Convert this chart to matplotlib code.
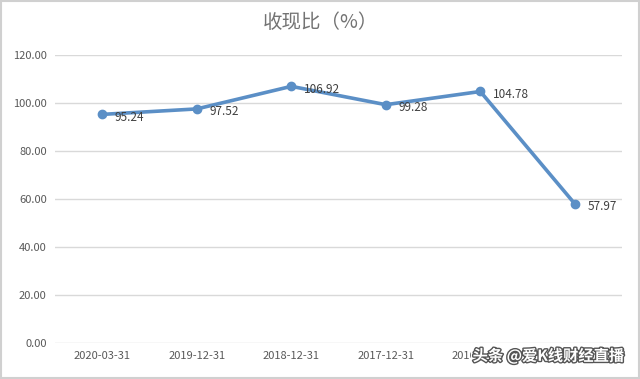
import matplotlib
matplotlib.use('Agg')
import matplotlib.pyplot as plt
import matplotlib.patheffects as pe

plt.rcParams['font.family'] = ['Noto Sans CJK SC', 'DejaVu Sans']

# data
dates = ['2020-03-31', '2019-12-31', '2018-12-31', '2017-12-31', '2016-12-31', '2015-12-31']
ratio = [95.24, 97.52, 106.92, 99.28, 104.78, 57.97]
yticks = [0, 20, 40, 60, 80, 100, 120]

blue = '#5b8fc6'
grey_text = '#595959'

fig = plt.figure(figsize=(6.4, 3.79), dpi=100)
ax = fig.add_axes([0.086, 0.095, 0.886, 0.76])

x = list(range(len(dates)))
ax.plot(x, ratio, color=blue, lw=2.6, marker='o', ms=6, zorder=3)
for xi, v in zip(x, ratio):
    ax.annotate('%.2f' % v, (xi, v), xytext=(9, -2), textcoords='offset points',
                ha='left', va='center', fontsize=8.5, color='#404040')

ax.set_xlim(-0.5, len(dates) - 0.5)
ax.set_ylim(0, 120)
ax.set_yticks(yticks)
ax.set_yticklabels(['%.2f' % t for t in yticks])
ax.set_xticks(x)
ax.set_xticklabels(dates)
ax.tick_params(length=0, labelsize=8, colors=grey_text, pad=6)
ax.grid(axis='y', color='#d9d9d9', lw=1)
ax.set_axisbelow(True)
for s in ax.spines.values():
    s.set_visible(False)

fig.text(0.5, 0.94, '收现比（%）', ha='center', va='center', fontsize=14, color='#737373')

# watermark in the bottom right corner, drawn over the last tick labels
wm = fig.text(0.975, 0.06, '头条 @爱K线财经直播', ha='right', va='center', fontsize=11,
              color='white', fontweight='bold',
              bbox=dict(boxstyle='square,pad=0.1', fc='white', ec='none'))
wm.set_path_effects([pe.withStroke(linewidth=2, foreground='#555555')])

fig.patches.append(plt.Rectangle((0.002, 0.003), 0.996, 0.994, transform=fig.transFigure,
                                 fill=False, ec='#d0d0d0', lw=1.5))

fig.savefig('out.png', dpi=100)
